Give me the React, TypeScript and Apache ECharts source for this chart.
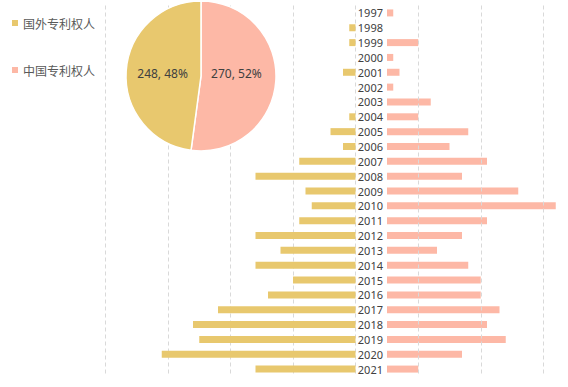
import React, { useEffect, useRef } from "react";
import * as echarts from "echarts";

const years = [
  "1997", "1998", "1999", "2000", "2001", "2002", "2003", "2004", "2005", "2006",
  "2007", "2008", "2009", "2010", "2011", "2012", "2013", "2014", "2015", "2016",
  "2017", "2018", "2019", "2020", "2021",
];
const foreignName = "国外专利权人";
const chinaName = "中国专利权人";
const foreignValues = [0, 1, 1, 0, 2, 0, 0, 1, 4, 2, 9, 16, 8, 7, 9, 16, 12, 16, 10, 14, 22, 26, 25, 31, 16];
const chinaValues = [1, 0, 5, 1, 2, 1, 7, 5, 13, 10, 16, 12, 21, 27, 16, 12, 8, 13, 15, 15, 18, 16, 19, 12, 5];
const rightGridMarks = [5, 15, 25];

const YELLOW = "#E8C86E";
const PINK = "#FDB8A6";
const GRID = "#D9D9D9";

export default function App() {
  const ref = useRef<HTMLDivElement>(null);
  useEffect(() => {
    if (!ref.current) return;
    const chart = echarts.init(ref.current, null, { renderer: "svg" });
    const sum = (a: number[]) => a.reduce((s, v) => s + v, 0);
    const top = 5.5;
    const height = 371;
    chart.setOption({
      animation: false,
      textStyle: { fontFamily: "'Noto Sans', 'Noto Sans CJK SC', sans-serif" },
      legend: {
        orient: "vertical",
        left: 7,
        top: 11,
        itemWidth: 6,
        itemHeight: 6,
        itemGap: 33,
        icon: "rect",
        data: [foreignName, chinaName],
        textStyle: {
          color: "#595959",
          fontSize: 12,
          lineHeight: 14,
          fontFamily: "'Noto Sans CJK SC', sans-serif",
        },
      },
      grid: [
        { left: 105.5, top, width: 250, height },
        { left: 387, top, width: 175, height },
      ],
      xAxis: [
        {
          gridIndex: 0,
          type: "value",
          inverse: true,
          min: 0,
          max: 40,
          interval: 10,
          axisLabel: { show: false },
          axisLine: { show: false },
          axisTick: { show: false },
          splitLine: { show: true, lineStyle: { color: GRID, type: [4, 3], width: 1 } },
        },
        {
          gridIndex: 1,
          type: "value",
          min: 0,
          max: 28,
          axisLabel: { show: false },
          axisLine: { show: false },
          axisTick: { show: false },
          splitLine: { show: false },
        },
      ],
      yAxis: [
        {
          gridIndex: 0,
          type: "category",
          inverse: true,
          data: years,
          axisLabel: { show: false },
          axisLine: { show: false },
          axisTick: { show: false },
        },
        {
          gridIndex: 1,
          type: "category",
          inverse: true,
          position: "left",
          data: years,
          axisLabel: {
            show: true,
            margin: 4,
            color: "#404040",
            fontSize: 11,
            fontFamily: "'Noto Sans', sans-serif",
          },
          axisLine: { show: false },
          axisTick: { show: false },
        },
      ],
      series: [
        {
          type: "line",
          xAxisIndex: 1,
          yAxisIndex: 1,
          data: [],
          silent: true,
          z: 0,
          markLine: {
            silent: true,
            symbol: "none",
            label: { show: false },
            lineStyle: { color: GRID, type: [4, 3], width: 1 },
            data: rightGridMarks.map((v) => ({ xAxis: v })),
          },
        },
        {
          name: foreignName,
          type: "bar",
          xAxisIndex: 0,
          yAxisIndex: 0,
          data: foreignValues,
          barWidth: 7,
          itemStyle: { color: YELLOW },
          z: 3,
        },
        {
          name: chinaName,
          type: "bar",
          xAxisIndex: 1,
          yAxisIndex: 1,
          data: chinaValues,
          barWidth: 7,
          itemStyle: { color: PINK },
          z: 3,
        },
        {
          type: "pie",
          center: [201, 76],
          radius: 75,
          startAngle: 90,
          clockwise: true,
          percentPrecision: 0,
          z: 5,
          itemStyle: { borderColor: "#fff", borderWidth: 1.5 },
          label: {
            show: true,
            position: "inside",
            formatter: "{c}, {d}%",
            color: "#404040",
            fontSize: 12,
            fontFamily: "'Noto Sans', sans-serif",
          },
          labelLine: { show: false },
          data: [
            {
              name: chinaName,
              value: sum(chinaValues),
              itemStyle: { color: PINK },
              label: { offset: [-5, -5] },
            },
            {
              name: foreignName,
              value: sum(foreignValues),
              itemStyle: { color: YELLOW },
              label: { offset: [2, 0] },
            },
          ],
        },
      ],
    });
    return () => chart.dispose();
  }, []);
  return (
    <div
      ref={ref}
      style={{ position: "fixed", left: 0, top: 0, width: 568, height: 387, background: "#fff" }}
    />
  );
}
